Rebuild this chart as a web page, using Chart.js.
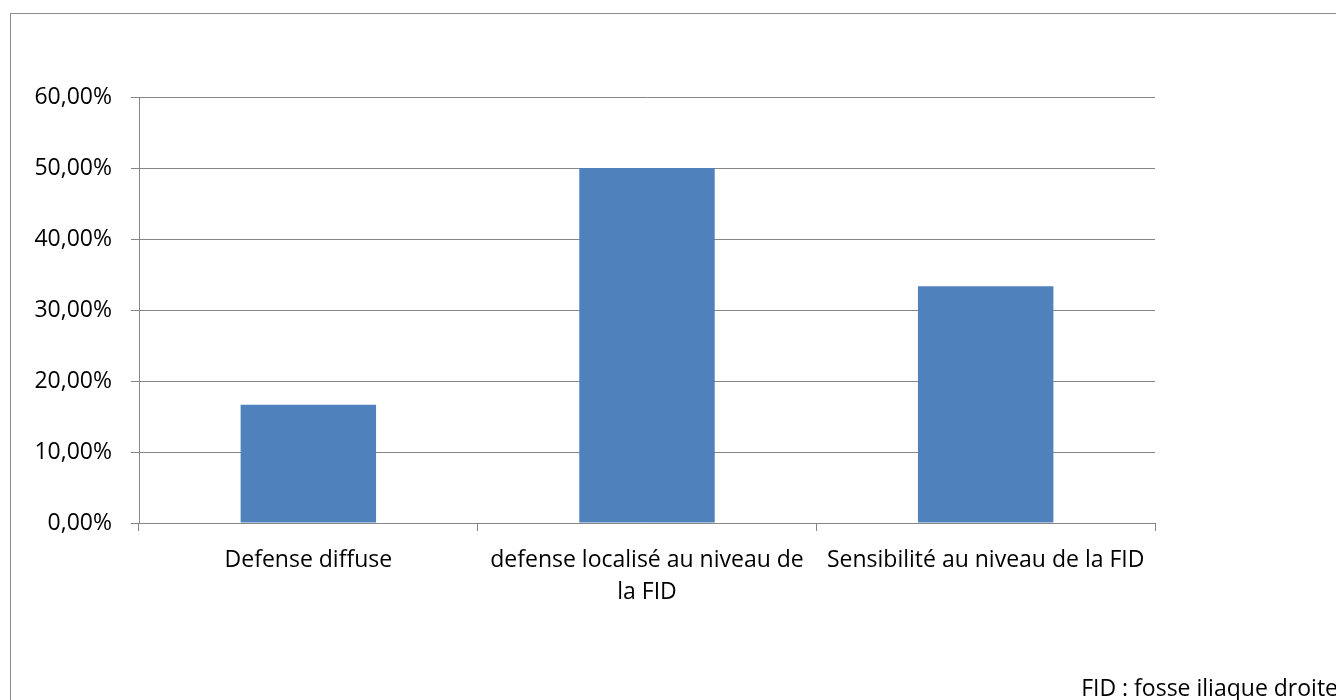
<!DOCTYPE html>
<html>
<head>
<meta charset="utf-8">
<script src="https://cdn.jsdelivr.net/npm/chart.js@4"></script>
<style>
  html, body { margin: 0; padding: 0; background: #fff; }
  #wrap { width: 1336px; height: 700px; position: relative; }
</style>
</head>
<body>
<div id="wrap"><canvas id="bar-chart"></canvas></div>
<script>
// Chart data
var categories = [
    "Defense diffuse",
    ["defense localisé au niveau de", "la FID"],
    "Sensibilité au niveau de la FID"
];
var percentValues = [16.67, 50.0, 33.33];
var yTicks = [0, 10, 20, 30, 40, 50, 60];
var footnote = "FID : fosse iliaque droite";

var axisGray = "#868686";
var fontFamily = "'Open Sans', 'Liberation Sans', sans-serif";
var fontSize = 23;

// frame + footnote, drawn like the Excel chart box
var framePlugin = {
    id: "frame",
    beforeDraw: function(chart) {
        var ctx = chart.ctx;
        ctx.save();
        ctx.fillStyle = "#fff";
        ctx.fillRect(0, 0, chart.width, chart.height);
        ctx.strokeStyle = "#8c8c8c";
        ctx.lineWidth = 1;
        ctx.strokeRect(10.5, 13.5, chart.width + 10, chart.height + 10);
        ctx.restore();
    },
    afterDraw: function(chart) {
        var ctx = chart.ctx;
        ctx.save();
        ctx.font = fontSize + "px " + fontFamily;
        ctx.fillStyle = "#000";
        ctx.textAlign = "right";
        ctx.textBaseline = "middle";
        ctx.fillText(footnote, 1338, 689);
        ctx.restore();
    }
};

var ctx = document.getElementById("bar-chart");
var barChart = new Chart(ctx, {
    type: "bar",
    data: {
        labels: categories,
        datasets: [{
            data: percentValues,
            backgroundColor: "#4F81BD",
            borderWidth: 0,
            categoryPercentage: 1.0,
            barPercentage: 0.4
        }]
    },
    options: {
        responsive: true,
        maintainAspectRatio: false,
        animation: false,
        layout: { padding: { left: 10, top: 97, right: 181, bottom: 0 } },
        plugins: {
            legend: { display: false },
            tooltip: { enabled: false }
        },
        scales: {
            x: {
                grid: {
                    offset: true,
                    drawOnChartArea: false,
                    color: axisGray,
                    tickLength: 8
                },
                border: { color: axisGray },
                ticks: {
                    color: "#000",
                    maxRotation: 0,
                    autoSkip: false,
                    padding: 13,
                    font: { family: fontFamily, size: fontSize, lineHeight: 1.39 }
                },
                afterFit: function(scale) { scale.height = 177; }
            },
            y: {
                min: 0,
                max: 60,
                afterBuildTicks: function(scale) {
                    scale.ticks = yTicks.map(function(v) { return { value: v }; });
                },
                grid: { color: axisGray, tickLength: 8 },
                border: { color: axisGray },
                ticks: {
                    color: "#000",
                    padding: 19,
                    font: { family: fontFamily, size: fontSize },
                    callback: function(v) { return v.toFixed(2).replace(".", ",") + "%"; }
                },
                afterFit: function(scale) { scale.width = 129; }
            }
        }
    },
    plugins: [framePlugin]
});
</script>
</body>
</html>
